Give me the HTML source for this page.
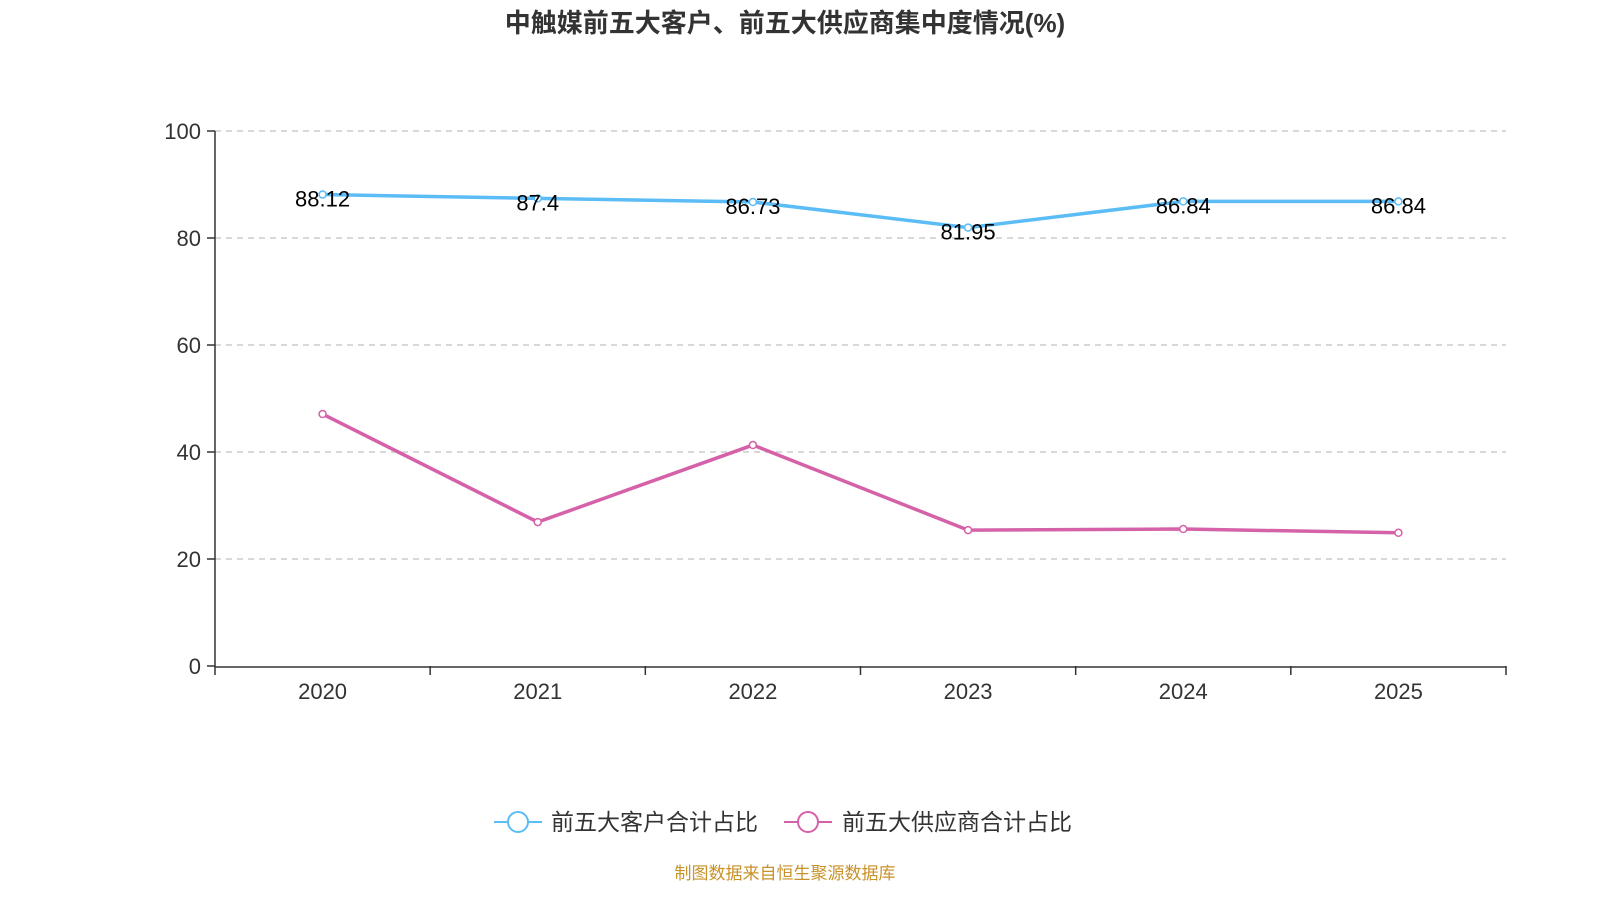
<!DOCTYPE html>
<html><head><meta charset="utf-8">
<style>
body{margin:0;background:#fff;font-family:"Liberation Sans","Noto Sans CJK SC",sans-serif;}
svg text{font-family:"Liberation Sans","Noto Sans CJK SC",sans-serif;}
</style></head>
<body>
<svg id="c" width="1600" height="900">
<text x="785" y="32" text-anchor="middle" font-size="26" font-weight="bold" fill="#333">中触媒前五大客户、前五大供应商集中度情况(%)</text>
<g id="grid"></g><g id="axes"></g><g id="series"></g>
<g>
<g>
<line x1="494" y1="822" x2="542" y2="822" stroke="#5bbcf6" stroke-width="2"/>
<circle cx="518" cy="822" r="10" fill="#fff" stroke="#5bbcf6" stroke-width="2"/>
<text x="551" y="830" font-size="23" fill="#333">前五大客户合计占比</text></g>
<g>
<line x1="784" y1="822" x2="832" y2="822" stroke="#d562a8" stroke-width="2"/>
<circle cx="808" cy="822" r="10" fill="#fff" stroke="#d562a8" stroke-width="2"/>
<text x="842" y="830" font-size="23" fill="#333">前五大供应商合计占比</text></g>
</g>
<text x="785" y="879" text-anchor="middle" font-size="17" fill="#c8922a">制图数据来自恒生聚源数据库</text>
</svg>
<script>
const categories=["2020","2021","2022","2023","2024","2025"];
const customers=[88.12,87.4,86.73,81.95,86.84,86.84];
const suppliers=[47.1,26.9,41.3,25.4,25.6,24.9];
const yTicks=[0,20,40,60,80,100];
const NS="http://www.w3.org/2000/svg";
const L=215,R=1506,T=131,B=666;
const bw=(R-L)/categories.length;
const x=i=>L+bw*(i+0.5);
const y=v=>B-(v/100)*(B-T);
function mk(t,a,p){const e=document.createElementNS(NS,t);for(const k in a)e.setAttribute(k,a[k]);p.appendChild(e);return e;}
const grid=document.getElementById('grid'),axes=document.getElementById('axes'),ser=document.getElementById('series');
yTicks.forEach(v=>{
 if(v>0){const g=mk('line',{x1:L,x2:R,y1:y(v),y2:y(v),stroke:'#ccc','stroke-width':1.5,'stroke-dasharray':'6,5'},grid);
 
 }
 const tk=mk('line',{x1:L-8,x2:L,y1:y(v),y2:y(v),stroke:'#333','stroke-width':1.5},axes);
 
 
 const t=mk('text',{x:L-14,y:y(v)+8,'text-anchor':'end','font-size':22,fill:'#333'},axes);t.textContent=v;
 
 
});
const ya=mk('line',{x1:L,x2:L,y1:T,y2:B,stroke:'#333','stroke-width':1.5},axes);


const xa=mk('line',{x1:L,x2:R,y1:B+1,y2:B+1,stroke:'#333','stroke-width':1.5},axes);


for(let i=0;i<=categories.length;i++){const tk=mk('line',{x1:L+bw*i,x2:L+bw*i,y1:B,y2:B+9,stroke:'#333','stroke-width':1.5},axes);
 
 }
categories.forEach((c,i)=>{const t=mk('text',{x:x(i),y:B+33,'text-anchor':'middle','font-size':22,fill:'#333'},axes);t.textContent=c;
 
 });
function draw(data,color,name,labels){
 const p=mk('polyline',{points:data.map((v,i)=>x(i)+','+y(v)).join(' '),fill:'none',stroke:color,'stroke-width':3.5},ser);
 
 
 data.forEach((v,i)=>{const c=mk('circle',{cx:x(i),cy:y(v),r:3.5,fill:'#fff',stroke:color,'stroke-width':1.5},ser);
  
  
  if(labels){const t=mk('text',{x:x(i),y:y(v)+12,'text-anchor':'middle','font-size':22,fill:'#000'},ser);t.textContent=v;
   
   }
 });
}
draw(suppliers,'#d562a8','suppliers',false);
draw(customers,'#5bbcf6','customers',true);
</script>
</body></html>
